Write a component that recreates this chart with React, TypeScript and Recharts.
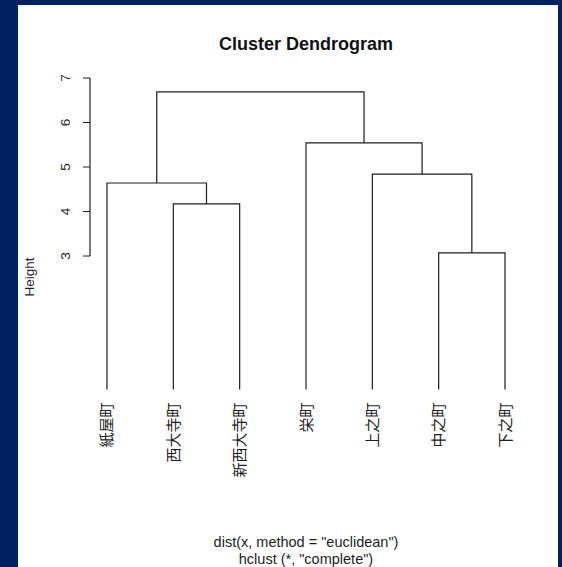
import { LineChart, Line, XAxis, YAxis, ReferenceLine } from "recharts";

// leaves in dendrogram order
const LEAVES = ["紙屋町", "西大寺町", "新西大寺町", "栄町", "上之町", "中之町", "下之町"];
// hclust-style merge table: negative = leaf (1-based), positive = earlier merge
const MERGE_LEFT = [-6, -2, -1, -5, -4, 3];
const MERGE_RIGHT = [-7, -3, 2, 1, 4, 5];
const MERGE_HEIGHT = [3.07, 4.17, 4.64, 4.84, 5.54, 6.69];
const Y_TICKS = [3, 4, 5, 6, 7];

const INK = "#1e1e1e";
const NAVY = "#032060";
const LATIN = "'Liberation Sans', Arial, sans-serif";
const CJK = "'Noto Sans CJK JP', 'Noto Sans CJK SC', sans-serif";

type Pt = { x: number; y: number };

function buildSegments() {
  const nodes: { x: number; h: number }[] = [];
  const get = (id: number) => (id < 0 ? { x: -id, h: 0 } : nodes[id - 1]);
  const segs: Pt[][] = [];
  MERGE_HEIGHT.forEach((h, i) => {
    const a = get(MERGE_LEFT[i]);
    const b = get(MERGE_RIGHT[i]);
    nodes.push({ x: (a.x + b.x) / 2, h });
    segs.push([
      { x: a.x, y: a.h },
      { x: a.x, y: h },
      { x: b.x, y: h },
      { x: b.x, y: b.h },
    ]);
  });
  return segs;
}

const segments = buildSegments();
const PAD = 0.256;
const X_DOMAIN = [1 - PAD, LEAVES.length + PAD];

const LeafTick = (props: any) => {
  const { x, y, payload } = props;
  const label = LEAVES[Math.round(payload.value) - 1] ?? "";
  return (
    <text
      transform={`translate(${x - 1},${y + 13}) rotate(-90)`}
      textAnchor="end"
      dominantBaseline="central"
      fontFamily={CJK}
      fontSize={15}
      fill={INK}
    >
      {label}
    </text>
  );
};

const HeightTick = (props: any) => {
  const { x, y, payload } = props;
  const cx = x - 16;
  return (
    <text
      x={cx}
      y={y}
      transform={`rotate(-90, ${cx}, ${y})`}
      textAnchor="middle"
      dominantBaseline="central"
      fontFamily={LATIN}
      fontSize={13.5}
      fill={INK}
    >
      {payload.value}
    </text>
  );
};

export default function App() {
  return (
    <div style={{ position: "absolute", left: 0, top: 0, width: 562, height: 567, background: NAVY }}>
      <div style={{ position: "absolute", left: 18, top: 5, width: 540, height: 562, background: "#fff" }}>
        <LineChart
          width={540}
          height={562}
          margin={{ top: 73, right: 36, left: 12, bottom: 117.5 }}
        >
          <XAxis
            type="number"
            dataKey="x"
            domain={X_DOMAIN}
            ticks={LEAVES.map((_, i) => i + 1)}
            interval={0}
            axisLine={false}
            tickLine={false}
            tickSize={0}
            tickMargin={0}
            height={60}
            tick={<LeafTick />}
          />
          <YAxis
            type="number"
            domain={[0, 7]}
            ticks={Y_TICKS}
            interval={0}
            axisLine={false}
            tickSize={7}
            tickLine={{ stroke: INK }}
            width={60}
            tick={<HeightTick />}
          />
          <ReferenceLine
            segment={[
              { x: X_DOMAIN[0], y: Y_TICKS[0] },
              { x: X_DOMAIN[0], y: Y_TICKS[Y_TICKS.length - 1] },
            ]}
            stroke={INK}
            strokeWidth={1.2}
            ifOverflow="visible"
          />
          {segments.map((seg, i) => (
            <Line
              key={i}
              data={seg}
              dataKey="y"
              type="linear"
              stroke={INK}
              strokeWidth={1.2}
              dot={false}
              activeDot={false}
              isAnimationActive={false}
            />
          ))}
        </LineChart>

        <div
          style={{
            position: "absolute", left: 288, top: 29, transform: "translateX(-50%)",
            fontFamily: LATIN, fontWeight: "bold", fontSize: 18, lineHeight: "20px",
            whiteSpace: "nowrap", color: "#111",
          }}
        >
          Cluster Dendrogram
        </div>

        <div
          style={{
            position: "absolute", left: 12, top: 272, width: 0, height: 0,
          }}
        >
          <div
            style={{
              position: "absolute", left: 0, top: 0, transform: "translate(-50%, -50%) rotate(-90deg)",
              fontFamily: LATIN, fontSize: 13.5, lineHeight: "16px", whiteSpace: "nowrap", color: INK,
            }}
          >
            Height
          </div>
        </div>

        <div
          style={{
            position: "absolute", left: 288, top: 529, transform: "translateX(-50%)",
            fontFamily: LATIN, fontSize: 14.5, lineHeight: "17px", textAlign: "center",
            whiteSpace: "nowrap", color: INK,
          }}
        >
          <div>dist(x, method = "euclidean")</div>
          <div>hclust (*, "complete")</div>
        </div>
      </div>
    </div>
  );
}
